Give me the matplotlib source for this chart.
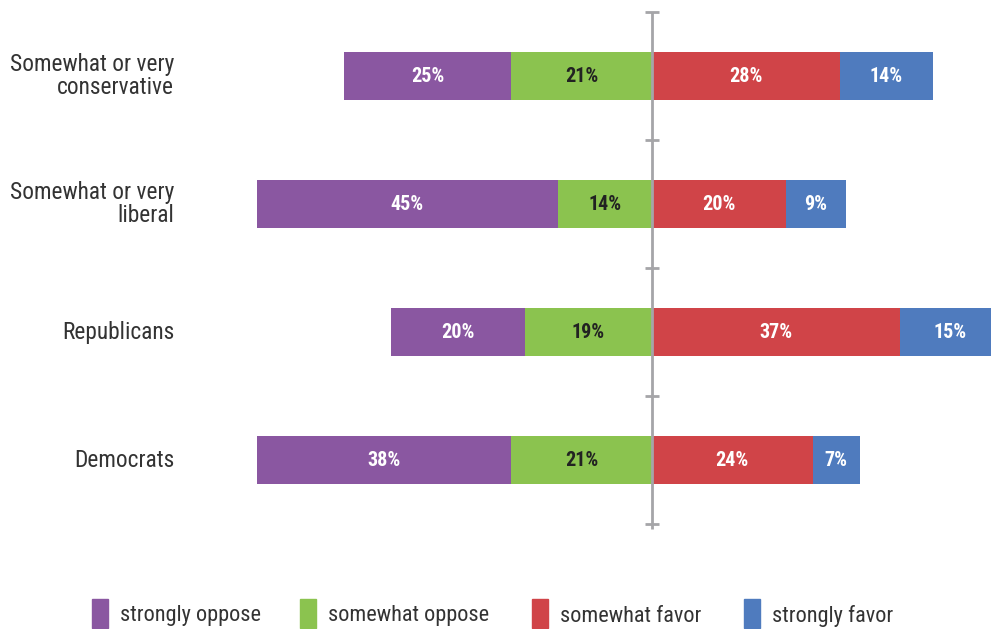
import numpy as np
import matplotlib.pyplot as plt
from matplotlib import font_manager
from matplotlib.patches import Rectangle
from matplotlib.transforms import blended_transform_factory

# pick a condensed sans that is installed
installed = {f.name for f in font_manager.fontManager.ttflist}
for fam in ['Roboto Condensed', 'IBM Plex Sans Condensed', 'Archivo Narrow', 'PT Sans Narrow']:
    if fam in installed:
        break
else:
    fam = 'DejaVu Sans'
plt.rcParams['font.family'] = [fam, 'DejaVu Sans']

groups = ['Somewhat or very\nconservative', 'Somewhat or very\nliberal', 'Republicans', 'Democrats']
strongly_oppose = [25, 45, 20, 38]
somewhat_oppose = [21, 14, 19, 21]
somewhat_favor = [28, 20, 37, 24]
strongly_favor = [14, 9, 15, 7]
legend_labels = ['strongly oppose', 'somewhat oppose', 'somewhat favor', 'strongly favor']
colors = ['#8A57A1', '#8BC34F', '#D04448', '#4F7BBE']
text_colors = ['white', '#222222', 'white', 'white']

fig = plt.figure(figsize=(9.91, 6.29), dpi=100)
ax = fig.add_axes([0, 0, 1, 1])
ax.set_xlim(-97.3, 50.6)
ax.set_ylim(4.32, -0.594)
ax.axis('off')

y = np.arange(len(groups))
h = 0.375
so = np.array(strongly_oppose)
mo = np.array(somewhat_oppose)
mf = np.array(somewhat_favor)
sf = np.array(strongly_favor)

segments = [
    (-(so + mo), so),
    (-mo, mo),
    (np.zeros(len(y)), mf),
    (mf, sf),
]
for (left, width), vals, c, tc in zip(segments, [so, mo, mf, sf], colors, text_colors):
    ax.barh(y, width, left=left, height=h, color=c, edgecolor='none', zorder=2)
    for yi, l, w, v in zip(y, left, width, vals):
        xc = l + w / 2
        if xc > 48:
            xc = (l + 50.6) / 2
        ax.text(xc, yi, f'{v}%', ha='center', va='center', color=tc,
                fontsize=14.5, fontweight='bold', zorder=4)

# center axis with ticks between groups
axis_gray = '#A5A5A8'
ax.vlines(0, -0.5, len(y) - 0.46, color=axis_gray, lw=2, zorder=3)
ticks = np.arange(len(y) + 1) - 0.5
ax.hlines(ticks, -1.05, 1.05, color=axis_gray, lw=2, zorder=3)

tr = blended_transform_factory(fig.transFigure, ax.transData)
for yi, g in zip(y, groups):
    ax.text(0.1756, yi, g, transform=tr, ha='right', va='center',
            multialignment='right', fontsize=16.8, color='#333333', linespacing=1.0)

# legend along the bottom
patch_x = [92, 300, 532, 744]
for px, lab, c in zip(patch_x, legend_labels, colors):
    fig.patches.append(Rectangle((px / 991, 1 - 628 / 629), 16 / 991, 29 / 629,
                                 transform=fig.transFigure, color=c))
    fig.text((px + 28) / 991, 1 - 616 / 629, lab, ha='left', va='center',
             fontsize=16, color='#333333')

fig.savefig('out.png', dpi=100)
